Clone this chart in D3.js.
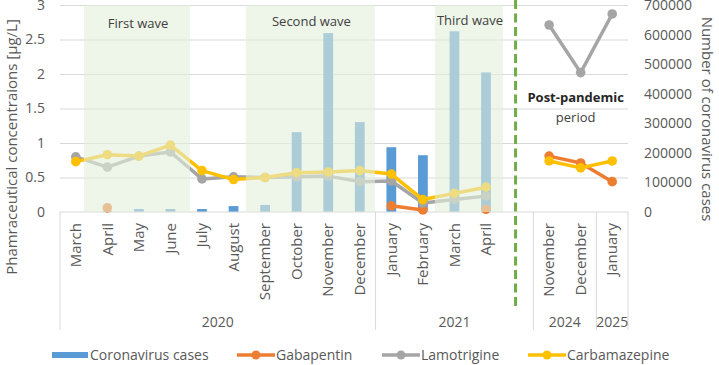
<!DOCTYPE html>
<html><head><meta charset="utf-8">
<script src="https://cdn.jsdelivr.net/npm/d3@7"></script>
<style>body{margin:0;background:#fff} svg{display:block;font-family:"Open Sans",sans-serif}</style>
</head><body><svg id="c" width="719" height="365"></svg>
<script>
const months = ["March","April","May","June","July","August","September","October","November","December","January","February","March","April","","November","December","January"];
const yearLabels = ["2020","2021","2024","2025"];
const yearSpans = [10,5,2,1];
const cases = [0,3000,10000,10000,10000,20000,24000,270000,605000,304000,219000,192000,611000,472000,null,null,null,null];
const gabapentin = [null,0.06,null,null,null,null,null,null,null,null,0.09,0.03,null,0.04,null,0.81,0.71,0.44];
const lamotrigine = [0.80,0.65,0.81,0.87,0.48,0.51,0.50,0.51,0.52,0.44,0.45,0.13,0.18,0.23,null,2.71,2.02,2.87];
const carbamazepine = [0.73,0.83,0.81,0.97,0.60,0.47,0.50,0.57,0.58,0.60,0.55,0.18,0.27,0.36,null,0.74,0.64,0.74];
const leftTicks = [0,0.5,1,1.5,2,2.5,3];
const rightTicks = [0,100000,200000,300000,400000,500000,600000,700000];
const waveLabels = ["First wave","Second wave","Third wave"];
const waveStart = [0.26,5.39,11.38];
const waveEnd = [3.62,9.48,13.54];
const gapIndex = 14;
const seriesNames = ["Coronavirus cases","Gabapentin","Lamotrigine","Carbamazepine"];
const seriesColors = ["#5B9BD5","#ED7D31","#A5A5A5","#FFC000"];

const svg = d3.select("#c");
const L = 60, R = 628, T = 5, B = 212;
const x = d3.scaleBand().domain(d3.range(months.length)).range([L,R]).padding(0);
const bw = x.bandwidth();
const cx = i => x(i) + bw/2;
const cf = v => L + bw*(v+0.5);
const yL = d3.scaleLinear().domain([0,3]).range([B,T]);
const yR = d3.scaleLinear().domain([0,700000]).range([B,T]);
const txt = "#595959";

// gridlines
svg.append("g").attr("transform",`translate(${L},0)`)
  .call(d3.axisLeft(yL).tickValues(leftTicks.slice(1)).tickSize(-(R-L)).tickFormat(""))
  .call(g=>{g.select(".domain").remove(); g.selectAll("line").attr("stroke","#D9D9D9");});

// left axis labels
svg.append("g").attr("transform",`translate(${L},0)`)
  .call(d3.axisLeft(yL).tickValues(leftTicks).tickSize(0).tickPadding(15).tickFormat(d=>String(d)))
  .call(g=>{g.select(".domain").remove(); g.selectAll("text").attr("fill",txt).style("font-size","14px").style("font-family","Open Sans");});

// right axis labels
svg.append("g").attr("transform",`translate(${R},0)`)
  .call(d3.axisRight(yR).tickValues(rightTicks).tickSize(0).tickPadding(16).tickFormat(d3.format("d")))
  .call(g=>{g.select(".domain").remove(); g.selectAll("text").attr("fill",txt).style("font-size","14px").style("font-family","Open Sans");});

// bars
svg.append("g").selectAll("rect").data(cases.map((v,i)=>({v,i})).filter(d=>d.v!=null && d.v>0)).join("rect")
  .attr("x",d=>cx(d.i)-bw*0.155).attr("width",bw*0.31)
  .attr("y",d=>yR(d.v)).attr("height",d=>B-yR(d.v)).attr("fill",seriesColors[0]);

// category axis line
svg.append("line").attr("x1",L).attr("x2",R).attr("y1",B).attr("y2",B).attr("stroke","#D9D9D9");

// lines
const line = d3.line().defined(d=>d.v!=null).x(d=>cx(d.i)).y(d=>yL(d.v));
[gabapentin,lamotrigine,carbamazepine].forEach((s,k)=>{
  const data = s.map((v,i)=>({v,i}));
  const col = seriesColors[k+1];
  svg.append("path").datum(data).attr("d",line).attr("fill","none").attr("stroke",col)
    .attr("stroke-width",3.5).attr("stroke-linejoin","round");
  svg.append("g").selectAll("circle").data(data.filter(d=>d.v!=null)).join("circle")
    .attr("cx",d=>cx(d.i)).attr("cy",d=>yL(d.v)).attr("r",4.8).attr("fill",col);
});

// wave overlays
waveLabels.forEach((w,k)=>{
  svg.append("rect").attr("x",cf(waveStart[k])).attr("width",cf(waveEnd[k])-cf(waveStart[k]))
    .attr("y",T).attr("height",B-T).attr("fill","rgba(226,239,218,0.6)");
});
const wy = [28,26,25];
waveLabels.forEach((w,k)=>{
  svg.append("text").attr("x",(cf(waveStart[k])+cf(waveEnd[k]))/2+1).attr("y",wy[k])
    .attr("text-anchor","middle").attr("fill","#404040").style("font-size","13px").text(w);
});

// month labels
svg.append("g").selectAll("text").data(months.map((m,i)=>({m,i}))).join("text")
  .attr("transform",d=>`translate(${cx(d.i)},223) rotate(-90)`)
  .attr("text-anchor","end").attr("dy","0.35em").attr("fill",txt).style("font-size","15px").text(d=>d.m);

// year groups
let acc = 0;
const bounds = [0];
yearSpans.forEach(s=>{acc+=s; bounds.push(acc);});
svg.append("g").selectAll("line").data(bounds).join("line")
  .attr("x1",b=>x(0)+b*bw).attr("x2",b=>x(0)+b*bw).attr("y1",B).attr("y2",330).attr("stroke","#D9D9D9");
svg.append("g").selectAll("text").data(yearLabels).join("text")
  .attr("x",(d,k)=>x(0)+(bounds[k]+bounds[k+1])/2*bw).attr("y",327)
  .attr("text-anchor","middle").attr("fill",txt).style("font-size","14px").text(d=>d);

// dashed separator
svg.append("line").attr("x1",cx(gapIndex)-2).attr("x2",cx(gapIndex)-2).attr("y1",0).attr("y2",310)
  .attr("stroke","#70AD47").attr("stroke-width",3).attr("stroke-dasharray","9,4.5");

// post-pandemic text
const ppx = (cx(15)+cx(17))/2 - 5;
svg.append("text").attr("x",ppx).attr("y",102).attr("text-anchor","middle").attr("fill","#262626")
  .style("font-size","13px").style("font-weight","bold").text("Post-pandemic");
svg.append("text").attr("x",ppx).attr("y",122).attr("text-anchor","middle").attr("fill","#404040")
  .style("font-size","13px").text("period");

// axis titles
svg.append("text").attr("transform","translate(12,147) rotate(-90)").attr("text-anchor","middle").attr("dy","0.35em")
  .attr("fill",txt).style("font-size","15px").text("Phamraceutical concentraions [µg/L]");
svg.append("text").attr("transform","translate(707,119) rotate(90)").attr("text-anchor","middle").attr("dy","0.35em")
  .attr("fill",txt).style("font-size","15px").text("Number of coronavirus cases");

// legend
const lx = [52,237,382,528];
const lg = svg.append("g");
seriesNames.forEach((n,k)=>{
  if(k===0){
    lg.append("rect").attr("x",lx[k]).attr("y",352).attr("width",36).attr("height",6).attr("fill",seriesColors[0]);
  } else {
    lg.append("line").attr("x1",lx[k]).attr("x2",lx[k]+38).attr("y1",355).attr("y2",355).attr("stroke",seriesColors[k]).attr("stroke-width",3.5);
    lg.append("circle").attr("cx",lx[k]+19).attr("cy",355).attr("r",4.5).attr("fill",seriesColors[k]);
  }
  lg.append("text").attr("x",lx[k]+(k===0?38:39)).attr("y",360).attr("fill",txt).style("font-size","14px").text(n);
});
</script></body></html>
